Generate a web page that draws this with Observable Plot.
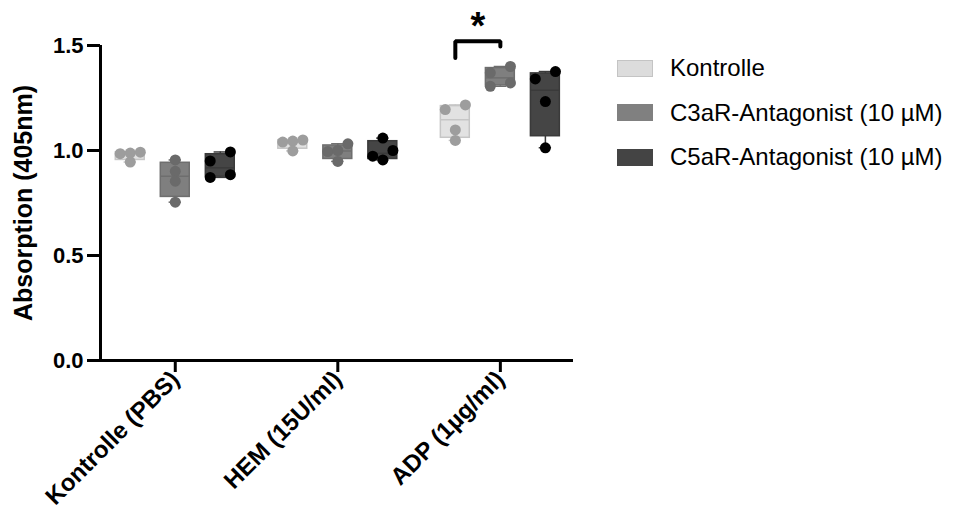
<!DOCTYPE html>
<html>
<head>
<meta charset="utf-8">
<script src="https://cdn.jsdelivr.net/npm/d3@7"></script>
<script src="https://cdn.jsdelivr.net/npm/@observablehq/plot@0.6"></script>
<style>
  html, body { margin: 0; padding: 0; background: #fff; }
  #chart { position: relative; width: 961px; height: 515px; font-family: "Liberation Sans", Arial, sans-serif; }
  #legend { position: absolute; left: 617px; top: 46px; }
  .row { display: flex; align-items: center; height: 44.5px; }
  .sw { width: 36px; height: 17px; box-sizing: border-box; margin-right: 17px; }
  .lab { font-size: 24px; color: #000; white-space: nowrap; }
</style>
</head>
<body>
<div id="chart"><div id="legend"></div></div>
<script>
// Stimulation groups along the x axis
const groups = ["Kontrolle (PBS)", "HEM (15U/ml)", "ADP (1µg/ml)"];
// Treatment series
const series = ["Kontrolle", "C3aR-Antagonist (10 µM)", "C5aR-Antagonist (10 µM)"];
// Absorbance replicates (405 nm), one array per group
const kontrolle = [[0.945, 0.985, 0.988, 0.992], [0.998, 1.040, 1.045, 1.050], [1.048, 1.098, 1.195, 1.217]];
const c3ar      = [[0.754, 0.854, 0.901, 0.955], [0.948, 0.995, 1.000, 1.032], [1.306, 1.322, 1.370, 1.400]];
const c5ar      = [[0.872, 0.885, 0.950, 0.993], [0.955, 0.973, 1.000, 1.059], [1.013, 1.233, 1.341, 1.376]];
// y axis ticks
const yTicks = [0, 0.5, 1.0, 1.5];
// Significance bracket: group index, series pair, bar height, leg ends
const sigGroup = 2;
const sigPair = [0, 1];
const sigTop = 1.52;
const sigLegs = [1.44, 1.495];
const sigLabel = "*";

// Styling per series
const boxFill   = ["#e2e2e2", "#7f7f7f", "#454545"];
const boxStroke = ["#c6c6c6", "#6e6e6e", "#3a3a3a"];
const dotFill   = ["#9d9d9d", "#6a6a6a", "#000000"];
const swatch    = ["#dcdcdc", "#808080", "#444444"];

// Layout in x units (one unit per group)
const xDomain = [-0.46, 2.45];
const seriesOffset = 0.277;
const boxHalf = 0.089;
const capHalf = 0.038;
const slot = 0.062;
const rowGap = 0.044;

const valuesBySeries = [kontrolle, c3ar, c5ar];

// Quartiles with the (n+1)p rule
function quant(s, p) {
  const h = (s.length + 1) * p;
  const lo = Math.max(1, Math.min(s.length, Math.floor(h)));
  const hi = Math.min(s.length, lo + 1);
  return s[lo - 1] + (h - lo) * (s[hi - 1] - s[lo - 1]);
}

const stats = [];
const points = [];
valuesBySeries.forEach((arr, si) => {
  arr.forEach((vals, gi) => {
    const s = vals.slice().sort(d3.ascending);
    const xc = gi + (si - 1) * seriesOffset;
    stats.push({si, gi, x: xc, min: s[0], max: s[s.length - 1],
                q1: quant(s, 0.25), med: quant(s, 0.5), q3: quant(s, 0.75)});
    // rows of overlapping points, spread side by side
    const desc = s.slice().reverse();
    const rows = [];
    for (const v of desc) {
      const r = rows[rows.length - 1];
      if (r && r[0] - v <= rowGap) r.push(v); else rows.push([v]);
    }
    for (const r of rows) {
      const n = r.length;
      const asc = r.slice().sort(d3.ascending);
      const slots = n % 2
        ? d3.range(n).map(i => i - (n - 1) / 2)
        : [...d3.range(-n / 2, 0), ...d3.range(1, n / 2 + 1)];
      asc.forEach((v, i) => points.push({si, gi, x: xc + slots[i] * slot, y: v}));
    }
  });
});

const marks = [];
for (let si = 0; si < series.length; si++) {
  const st = stats.filter(d => d.si === si);
  const pt = points.filter(d => d.si === si);
  marks.push(
    Plot.ruleX(st, {x: "x", y1: "min", y2: "max", stroke: boxStroke[si], strokeWidth: 1.5}),
    Plot.ruleY(st, {y: "min", x1: d => d.x - capHalf, x2: d => d.x + capHalf, stroke: boxStroke[si], strokeWidth: 1.5}),
    Plot.ruleY(st, {y: "max", x1: d => d.x - capHalf, x2: d => d.x + capHalf, stroke: boxStroke[si], strokeWidth: 1.5}),
    Plot.rect(st, {x1: d => d.x - boxHalf, x2: d => d.x + boxHalf, y1: "q1", y2: "q3", fill: boxFill[si], stroke: boxStroke[si], strokeWidth: 1.5}),
    Plot.ruleY(st, {y: "med", x1: d => d.x - boxHalf, x2: d => d.x + boxHalf, stroke: boxStroke[si], strokeWidth: 1.5}),
    Plot.dot(pt, {x: "x", y: "y", r: 5.5, fill: dotFill[si], stroke: "none"})
  );
}

// Significance bracket and asterisk
const bx = sigPair.map(i => sigGroup + (i - 1) * seriesOffset);
const bracket = [
  {x: bx[0], y: sigLegs[0]}, {x: bx[0], y: sigTop},
  {x: bx[1], y: sigTop}, {x: bx[1], y: sigLegs[1]}
];

const plot = Plot.plot({
  width: 600,
  height: 515,
  marginLeft: 100,
  marginRight: 27,
  marginTop: 45,
  marginBottom: 155,
  style: {fontFamily: "'Liberation Sans', Arial, sans-serif", background: "transparent", overflow: "visible"},
  x: {domain: xDomain},
  y: {domain: [0, 1.5]},
  marks: [
    ...marks,
    Plot.line(bracket, {x: "x", y: "y", stroke: "#000", strokeWidth: 4, strokeLinecap: "round", strokeLinejoin: "miter"}),
    Plot.text([sigLabel], {x: (bx[0] + bx[1]) / 2, y: sigTop, text: d => d, dy: -14, fontSize: 38, fontWeight: "bold", fill: "#000"}),
    Plot.axisY(yTicks, {tickSize: 13, tickPadding: 4, tickFormat: d3.format(".1f"), fontSize: 22, fontWeight: "bold", strokeWidth: 3, label: null, color: "#000"}),
    Plot.axisX([0, 1, 2], {tickSize: 12, tickPadding: 3, tickFormat: i => groups[i], tickRotate: -45, fontSize: 24, fontWeight: "bold", strokeWidth: 3, label: null, color: "#000"}),
    Plot.ruleY([0], {stroke: "#000", strokeWidth: 3}),
    Plot.ruleX([xDomain[0]], {y1: 0, y2: 1.5, stroke: "#000", strokeWidth: 3}),
    Plot.text(["Absorption (405nm)"], {frameAnchor: "left", textAnchor: "middle", text: d => d, rotate: -90, dx: -77, fontSize: 25, fontWeight: "bold", fill: "#000"})
  ]
});
document.getElementById("chart").prepend(plot);

// Legend
const legend = document.getElementById("legend");
series.forEach((name, i) => {
  const row = document.createElement("div");
  row.className = "row";
  const sw = document.createElement("div");
  sw.className = "sw";
  sw.style.background = swatch[i];
  if (i === 0) sw.style.border = "1px solid #c4c4c4";
  const lab = document.createElement("div");
  lab.className = "lab";
  lab.textContent = name;
  row.append(sw, lab);
  legend.append(row);
});
</script>
</body>
</html>
